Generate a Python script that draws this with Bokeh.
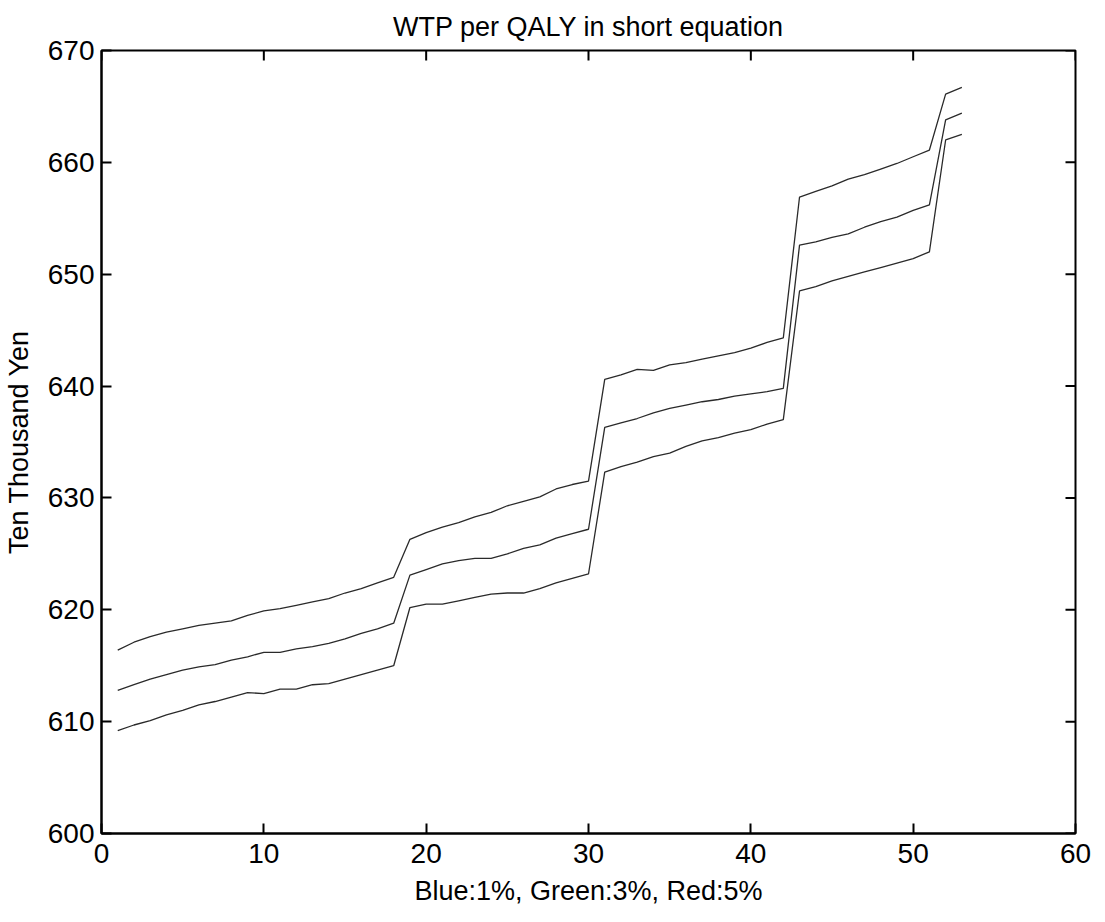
import math
from bokeh.plotting import figure
from bokeh.models import FixedTicker, ColumnDataSource
from bokeh.embed import file_html
from bokeh.resources import INLINE

# ---- data ----
x_vals = list(range(1, 54))
rate_1pct = [616.4, 617.1, 617.6, 618.0, 618.3, 618.6, 618.8, 619.0, 619.5, 619.9,
             620.1, 620.4, 620.7, 621.0, 621.5, 621.9, 622.4, 622.9, 626.3, 626.9,
             627.4, 627.8, 628.3, 628.7, 629.3, 629.7, 630.1, 630.8, 631.2, 631.5,
             640.6, 641.0, 641.5, 641.4, 641.9, 642.1, 642.4, 642.7, 643.0, 643.4,
             643.9, 644.3, 656.9, 657.4, 657.9, 658.5, 658.9, 659.4, 659.9, 660.5,
             661.1, 666.1, 666.7]
rate_3pct = [612.8, 613.3, 613.8, 614.2, 614.6, 614.9, 615.1, 615.5, 615.8, 616.2,
             616.2, 616.5, 616.7, 617.0, 617.4, 617.9, 618.3, 618.8, 623.1, 623.6,
             624.1, 624.4, 624.6, 624.6, 625.0, 625.5, 625.8, 626.4, 626.8, 627.2,
             636.3, 636.7, 637.1, 637.6, 638.0, 638.3, 638.6, 638.8, 639.1, 639.3,
             639.5, 639.8, 652.6, 652.9, 653.3, 653.6, 654.2, 654.7, 655.1, 655.7,
             656.2, 663.8, 664.4]
rate_5pct = [609.2, 609.7, 610.1, 610.6, 611.0, 611.5, 611.8, 612.2, 612.6, 612.5,
             612.9, 612.9, 613.3, 613.4, 613.8, 614.2, 614.6, 615.0, 620.2, 620.5,
             620.5, 620.8, 621.1, 621.4, 621.5, 621.5, 621.9, 622.4, 622.8, 623.2,
             632.3, 632.8, 633.2, 633.7, 634.0, 634.6, 635.1, 635.4, 635.8, 636.1,
             636.6, 637.0, 648.5, 648.9, 649.4, 649.8, 650.2, 650.6, 651.0, 651.4,
             652.0, 662.0, 662.5]
x_ticks = [0, 10, 20, 30, 40, 50, 60]
y_ticks = [600, 610, 620, 630, 640, 650, 660, 670]

title_text = "WTP per QALY in short equation"
x_label = "Blue:1%, Green:3%, Red:5%"
y_label = "Ten Thousand Yen"

FONT = "Liberation Sans"
x_min, x_max = x_ticks[0], x_ticks[-1]
y_min, y_max = y_ticks[0], y_ticks[-1]

p = figure(frame_width=974, frame_height=783,
           x_range=(x_min, x_max), y_range=(y_min, y_max),
           output_backend="svg", toolbar_location=None,
           min_border_left=99, min_border_top=50, min_border_right=16,
           min_border_bottom=70,
           title=title_text)
p.background_fill_color = "white"
p.border_fill_color = "white"
p.outline_line_color = "black"
p.outline_line_width = 2
p.xgrid.visible = False
p.ygrid.visible = False

p.title.text_font = FONT
p.title.text_font_size = "27px"
p.title.text_font_style = "normal"
p.title.align = "center"
p.title.text_color = "black"
p.title.standoff = 18

src = ColumnDataSource(dict(x=x_vals, a=rate_1pct, b=rate_3pct, c=rate_5pct))
for col in ["a", "b", "c"]:
    p.line("x", col, source=src, line_color="#2a2a2a", line_width=1.3)

# inner ticks on the top and right borders (mirror of the bottom/left axes)
p.ray(x=x_ticks, y=[y_max] * len(x_ticks), length=10, length_units="screen",
      angle=-math.pi / 2, line_color="black", line_width=2)
p.ray(x=[x_max] * len(y_ticks), y=y_ticks, length=10, length_units="screen",
      angle=math.pi, line_color="black", line_width=2)

def style_axis(ax, ticks):
    ax.ticker = FixedTicker(ticks=ticks)
    ax.axis_line_color = "black"
    ax.axis_line_width = 2
    ax.major_tick_line_color = "black"
    ax.major_tick_line_width = 2
    ax.major_tick_in = 10
    ax.major_tick_out = 0
    ax.minor_tick_line_color = None
    ax.major_label_text_font = FONT
    ax.major_label_text_color = "black"
    ax.major_label_text_font_size = "28px"
    ax.axis_label_text_font = FONT
    ax.axis_label_text_font_style = "normal"
    ax.axis_label_text_color = "black"
    ax.axis_label_text_font_size = "27px"

xa = p.xaxis[0]
style_axis(xa, x_ticks)
xa.major_label_standoff = 10
xa.axis_label = x_label
xa.axis_label_standoff = 10

ya = p.yaxis[0]
style_axis(ya, y_ticks)
ya.major_label_standoff = 7
ya.axis_label = y_label
ya.axis_label_standoff = 11

open("out.html", "w").write(file_html(p, INLINE))
